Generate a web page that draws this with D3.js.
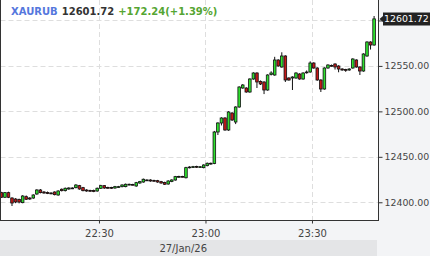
<!DOCTYPE html>
<html>
<head>
<meta charset="utf-8">
<script src="https://cdn.jsdelivr.net/npm/d3@7"></script>
<style>
  body { margin: 0; background: #f3f4f6; }
  svg { display: block; font-family: "DejaVu Sans", sans-serif; }
</style>
</head>
<body>
<div id="chart"></div>
<script>
// one candle per minute, 27 Jan 2026, starting 22:02
var firstMinute = [22, 2];
var opens = [12410.6, 12405.5, 12410.6, 12404.7, 12403.6, 12403.1, 12399.6, 12406.2, 12404.7, 12404.7,
    12409.1, 12413.5, 12411.3, 12410.8, 12410.2, 12411.3, 12408.0, 12414.3, 12412.8, 12414.6,
    12415.7, 12416.1, 12418.3, 12416.1, 12413.5, 12413.0, 12413.0, 12412.4, 12415.4, 12418.3,
    12416.3, 12416.3, 12415.7, 12416.8, 12417.2, 12417.2, 12419.4, 12419.6, 12417.9, 12421.2,
    12422.3, 12424.5, 12424.5, 12424.0, 12423.8, 12422.7, 12421.8, 12420.1, 12422.9, 12424.5,
    12427.8, 12428.4, 12427.0, 12438.1, 12438.5, 12439.4, 12438.8, 12438.1, 12440.3, 12442.1,
    12442.7, 12477.3, 12487.2, 12492.7, 12479.5, 12498.2, 12488.3, 12504.8, 12525.7, 12525.7,
    12521.3, 12535.6, 12542.2, 12533.0, 12532.3, 12523.5, 12540.5, 12540.0, 12556.5, 12548.8,
    12560.9, 12536.7, 12536.7, 12536.7, 12541.1, 12535.6, 12542.5, 12543.3, 12553.2, 12547.7,
    12534.5, 12524.6, 12547.7, 12550.5, 12552.1, 12549.9, 12546.6, 12546.0, 12545.5, 12547.7,
    12556.5, 12548.8, 12544.4, 12560.9, 12576.3, 12573.0];
var highs = [12411.5, 12411.3, 12411.6, 12405.5, 12404.5, 12404.0, 12407.8, 12407.5, 12405.6, 12408.8,
    12414.4, 12414.6, 12412.3, 12411.8, 12411.0, 12412.0, 12413.2, 12415.2, 12416.2, 12416.5,
    12416.5, 12419.9, 12419.1, 12416.9, 12414.3, 12413.8, 12413.9, 12416.2, 12419.2, 12419.0,
    12417.1, 12417.0, 12418.0, 12418.0, 12419.8, 12420.6, 12420.5, 12420.3, 12422.4, 12423.5,
    12426.1, 12425.3, 12425.3, 12424.8, 12424.6, 12423.5, 12422.6, 12424.2, 12425.3, 12429.0,
    12429.2, 12429.1, 12439.0, 12439.6, 12440.0, 12440.2, 12439.9, 12441.8, 12443.7, 12443.7,
    12478.5, 12488.0, 12493.5, 12493.6, 12500.2, 12499.0, 12505.6, 12527.6, 12530.0, 12526.5,
    12536.4, 12543.0, 12543.0, 12534.0, 12533.1, 12540.8, 12544.1, 12560.0, 12557.3, 12565.0,
    12561.7, 12537.5, 12538.6, 12543.0, 12541.9, 12543.0, 12545.0, 12555.0, 12554.0, 12548.5,
    12535.3, 12548.5, 12551.8, 12551.5, 12552.9, 12550.7, 12547.4, 12546.8, 12547.4, 12558.4,
    12557.3, 12549.6, 12563.9, 12577.1, 12577.1, 12604.9];
var lows = [12404.8, 12404.9, 12404.6, 12395.9, 12399.0, 12398.8, 12398.9, 12402.5, 12402.7, 12403.8,
    12408.2, 12409.8, 12409.4, 12409.0, 12408.8, 12407.6, 12407.2, 12411.9, 12411.9, 12413.8,
    12414.5, 12415.3, 12413.8, 12412.0, 12411.6, 12411.5, 12411.1, 12411.6, 12414.6, 12414.8,
    12414.9, 12414.6, 12414.9, 12416.0, 12416.4, 12416.5, 12418.7, 12418.6, 12417.1, 12420.4,
    12421.5, 12423.4, 12422.6, 12422.7, 12421.5, 12420.4, 12419.0, 12419.3, 12422.1, 12423.7,
    12427.0, 12427.4, 12426.2, 12437.3, 12437.7, 12437.7, 12438.0, 12437.3, 12439.5, 12441.3,
    12441.9, 12474.0, 12484.5, 12478.7, 12478.6, 12489.5, 12486.0, 12504.0, 12524.9, 12520.5,
    12520.5, 12534.8, 12525.7, 12529.0, 12519.0, 12522.7, 12539.5, 12539.2, 12549.1, 12548.0,
    12532.3, 12533.7, 12523.5, 12535.9, 12534.8, 12534.8, 12541.5, 12542.5, 12546.9, 12533.7,
    12521.3, 12523.8, 12546.9, 12549.2, 12546.0, 12543.0, 12544.7, 12543.5, 12544.7, 12546.9,
    12548.0, 12540.0, 12543.6, 12560.1, 12568.0, 12572.2];
var closes = [12405.5, 12410.6, 12405.5, 12399.2, 12400.3, 12400.3, 12406.9, 12403.3, 12403.6, 12408.0,
    12413.5, 12410.6, 12410.2, 12409.7, 12409.7, 12408.4, 12412.4, 12412.8, 12415.4, 12415.7,
    12415.2, 12419.0, 12414.6, 12412.8, 12412.4, 12412.4, 12411.9, 12415.4, 12418.3, 12415.7,
    12415.7, 12415.4, 12417.2, 12417.2, 12419.0, 12419.8, 12419.8, 12419.4, 12421.6, 12422.7,
    12425.3, 12424.2, 12423.4, 12423.4, 12422.3, 12421.2, 12419.8, 12423.4, 12424.5, 12428.2,
    12428.4, 12428.2, 12438.1, 12438.8, 12439.2, 12438.5, 12439.1, 12441.0, 12442.9, 12442.9,
    12477.3, 12487.2, 12492.7, 12479.5, 12499.3, 12490.5, 12504.8, 12526.8, 12529.0, 12521.3,
    12535.6, 12542.2, 12532.3, 12530.1, 12523.5, 12540.0, 12542.2, 12556.5, 12549.9, 12560.9,
    12534.5, 12534.5, 12537.8, 12542.2, 12535.6, 12542.2, 12543.3, 12553.2, 12547.7, 12534.5,
    12524.6, 12547.7, 12551.0, 12550.0, 12548.8, 12546.6, 12545.5, 12545.5, 12546.6, 12557.6,
    12548.8, 12544.4, 12563.1, 12576.3, 12573.0, 12601.72];

var yTicks = [12400, 12450, 12500, 12550, 12600];
var xTickLabels = ["22:30", "23:00", "23:30"];
var symbol = "XAURUB";
var lastPrice = "12601.72";
var change = "+172.24(+1.39%)";
var dateLabel = "27/Jan/26";

var W = 430, H = 256;
var plot = { left: 0.5, right: 378.5, top: 0, bottom: 220.5 };

var candles = opens.map(function (o, i) {
    return {
        t: new Date(2026, 0, 27, firstMinute[0], firstMinute[1] + i),
        o: o, h: highs[i], l: lows[i], c: closes[i]
    };
});

var x = d3.scaleTime()
    .domain([new Date(2026, 0, 27, 22, 2, 24), new Date(2026, 0, 27, 23, 48, 36)])
    .range([1, 378]);
var y = d3.scaleLinear()
    .domain([12379.4, 12622.5])
    .range([221, 0]);
var minutePx = x(new Date(2026, 0, 27, 22, 31)) - x(new Date(2026, 0, 27, 22, 30));

var svg = d3.select("#chart").append("svg")
    .attr("width", W)
    .attr("height", H);

svg.append("rect").attr("width", W).attr("height", H).attr("fill", "#f3f4f6");
svg.append("rect")
    .attr("x", plot.left).attr("y", plot.top)
    .attr("width", plot.right - plot.left).attr("height", plot.bottom - plot.top)
    .attr("fill", "#ffffff");
svg.append("rect")
    .attr("x", 0).attr("y", 240).attr("width", 377).attr("height", 16)
    .attr("fill", "#e4e5e7");

svg.append("clipPath").attr("id", "clip")
    .append("rect")
    .attr("x", plot.left + 0.5).attr("y", plot.top)
    .attr("width", plot.right - plot.left - 1).attr("height", plot.bottom - plot.top);

var xTickTimes = xTickLabels.map(function (s) {
    var p = s.split(":");
    return new Date(2026, 0, 27, +p[0], +p[1]);
});

// dashed grid
var grid = svg.append("g").attr("stroke", "#dedede").attr("stroke-dasharray", "5,3");
grid.selectAll(".hg").data(yTicks).enter().append("line")
    .attr("x1", plot.left).attr("x2", plot.right)
    .attr("y1", d => Math.round(y(d)) + 0.5).attr("y2", d => Math.round(y(d)) + 0.5);
grid.selectAll(".vg").data(xTickTimes).enter().append("line")
    .attr("x1", d => Math.round(x(d)) + 0.5).attr("x2", d => Math.round(x(d)) + 0.5)
    .attr("y1", plot.top).attr("y2", plot.bottom);

// candles
var cg = svg.append("g").attr("clip-path", "url(#clip)");
var bodyW = 2.6;
cg.selectAll(".wick").data(candles).enter().append("line")
    .attr("class", "wick")
    .attr("x1", d => x(d.t) + minutePx / 2).attr("x2", d => x(d.t) + minutePx / 2)
    .attr("y1", d => y(d.h)).attr("y2", d => y(d.l))
    .attr("stroke", "#111").attr("stroke-width", 1);
cg.selectAll(".body").data(candles).enter().append("rect")
    .attr("class", "body")
    .attr("x", d => x(d.t) + minutePx / 2 - bodyW / 2)
    .attr("y", d => y(Math.max(d.o, d.c)))
    .attr("width", bodyW)
    .attr("height", d => Math.max(0.8, Math.abs(y(d.o) - y(d.c))))
    .attr("fill", d => d.c >= d.o ? "#2ee02e" : "#c41818")
    .attr("stroke", "#111").attr("stroke-width", 0.8);

// axes
var yAxis = svg.append("g")
    .attr("transform", "translate(" + plot.right + ",0)")
    .call(d3.axisRight(y).tickValues(yTicks).tickSize(4).tickPadding(2).tickFormat(d3.format(".2f")));
var xAxis = svg.append("g")
    .attr("transform", "translate(0," + plot.bottom + ")")
    .call(d3.axisBottom(x).tickValues(xTickTimes).tickSize(3).tickPadding(6).tickFormat(d3.timeFormat("%H:%M")));
[yAxis, xAxis].forEach(function (a) {
    a.select(".domain").remove();
    a.selectAll("line").attr("stroke", "#333");
    a.selectAll("text").attr("fill", "#444").style("font-size", "10px").style("font-family", "DejaVu Sans");
});
yAxis.selectAll("text").style("font-size", "9.4px");
// the top label sits under the last-price marker
yAxis.selectAll(".tick").filter(d => d === 12600).select("text").remove();

var frame = svg.append("g").attr("stroke", "#333").attr("stroke-width", 1);
frame.append("line").attr("x1", plot.left).attr("x2", plot.left).attr("y1", 0).attr("y2", plot.bottom);
frame.append("line").attr("x1", plot.right).attr("x2", plot.right).attr("y1", 0).attr("y2", plot.bottom);
frame.append("line").attr("x1", 0).attr("x2", plot.right + 0.5).attr("y1", plot.bottom).attr("y2", plot.bottom);

svg.append("text")
    .attr("x", 207).attr("y", 252)
    .attr("text-anchor", "end")
    .attr("fill", "#444")
    .style("font-size", "10px")
    .text(dateLabel);

// last price marker
var ly = y(+lastPrice);
svg.append("path")
    .attr("d", "M379.5," + ly + "L383," + (ly - 3) + "L383," + (ly - 6.5) + "L430," + (ly - 6.5) +
        "L430," + (ly + 6.5) + "L383," + (ly + 6.5) + "L383," + (ly + 3) + "Z")
    .attr("fill", "#222");
svg.append("text")
    .attr("x", 384).attr("y", ly + 3.5)
    .attr("fill", "#fff")
    .style("font-size", "9.4px")
    .text(lastPrice);

// header
var head = svg.append("text")
    .attr("x", 11).attr("y", 15)
    .style("font-size", "10px")
    .style("font-weight", "bold");
head.append("tspan").attr("fill", "#5577dd").text(symbol);
head.append("tspan").attr("dx", 4).attr("fill", "#333").text(lastPrice);
head.append("tspan").attr("dx", 4).attr("fill", "#55a532").text(change);
</script>
</body>
</html>
